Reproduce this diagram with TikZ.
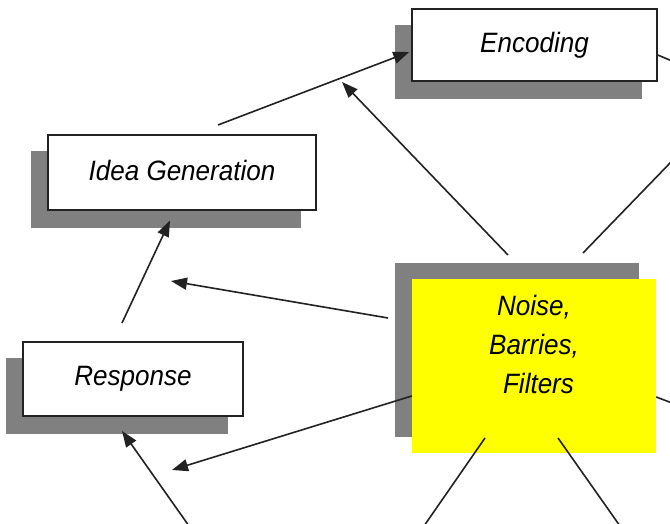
\documentclass[tikz,border=0pt]{standalone}
\usepackage{fontspec}
\setmainfont{Liberation Sans}[FakeStretch=0.93]
\usetikzlibrary{arrows.meta,shadows}
\definecolor{shadowgray}{HTML}{808080}
\definecolor{linecol}{HTML}{222222}
\definecolor{noiseyellow}{HTML}{FFFF00}
\tikzset{
  box/.style={draw=linecol, line width=1.5pt, fill=white, minimum width=#1, inner sep=0pt,
    font=\fontsize{28}{32}\selectfont\itshape,
    general shadow={shadow xshift=-16pt, shadow yshift=-17pt, fill=shadowgray, draw=shadowgray, line width=1.5pt}},
  noisebox/.style={fill=noiseyellow, minimum width=244pt, minimum height=174pt, inner sep=0pt,
    align=center, font=\fontsize{28}{39}\selectfont\itshape,
    general shadow={shadow xshift=-17pt, shadow yshift=16pt, fill=shadowgray, draw=none}},
  conn/.style={draw=linecol, line width=1.6pt},
  arr/.style={conn, -{Triangle[length=16pt,width=12pt]}},
}
\begin{document}
\begin{tikzpicture}[x=1pt,y=1pt]
\clip (0,0) rectangle (670,524);
\fill[white] (0,0) rectangle (670,524);

\node[noisebox] (noise) at (534,158) {\raisebox{13pt}[0pt][0pt]{\begin{tabular}{@{}c@{}}Noise,\\Barries,\\\hspace{9pt}Filters\end{tabular}}};
\node[box=245pt, minimum height=72pt] (enc) at (534.5,479) {\raisebox{2pt}{Encoding}};
\node[box=268pt, minimum height=75pt] (idea) at (182,351.5) {\raisebox{5pt}{Idea Generation}};
\node[box=220pt, minimum height=74pt] (resp) at (133,145) {\raisebox{3pt}{Response}};

% free ends
\coordinate (a1s) at (218,399);
\coordinate (a2s) at (508,269);
\coordinate (a2t) at (342,442);
\coordinate (l3s) at (583,271);
\coordinate (l3t) at (672,363);
\coordinate (l4t) at (672,463);
\coordinate (a5s) at (388,206);
\coordinate (a5t) at (171,243);
\coordinate (a6s) at (122,201);
\coordinate (a7t) at (172,54);
\coordinate (a8s) at (189,-2);
\coordinate (l9s) at (485,86);
\coordinate (l9t) at (424,-2);
\coordinate (l10s) at (558,86);
\coordinate (l10t) at (620,-2);
\coordinate (l11t) at (672,121);

% connectors
\draw[arr] (a1s) -- ([shift={(-2,-7)}]enc.west);
\draw[arr] (a2s) -- (a2t);
\draw[conn] (l3s) -- (l3t);
\draw[conn] ([yshift=-10]enc.east) -- (l4t);
\draw[arr] (a5s) -- (a5t);
\draw[arr] (a6s) -- ([shift={(-12,-48)}]idea.center);
\draw[arr] ([yshift=-30]noise.west) -- (a7t);
\draw[arr] (a8s) -- ([shift={(-11,-52)}]resp.center);
\draw[conn] (l9s) -- (l9t);
\draw[conn] (l10s) -- (l10t);
\draw[conn] ([yshift=-31]noise.east) -- (l11t);
\end{tikzpicture}
\end{document}
